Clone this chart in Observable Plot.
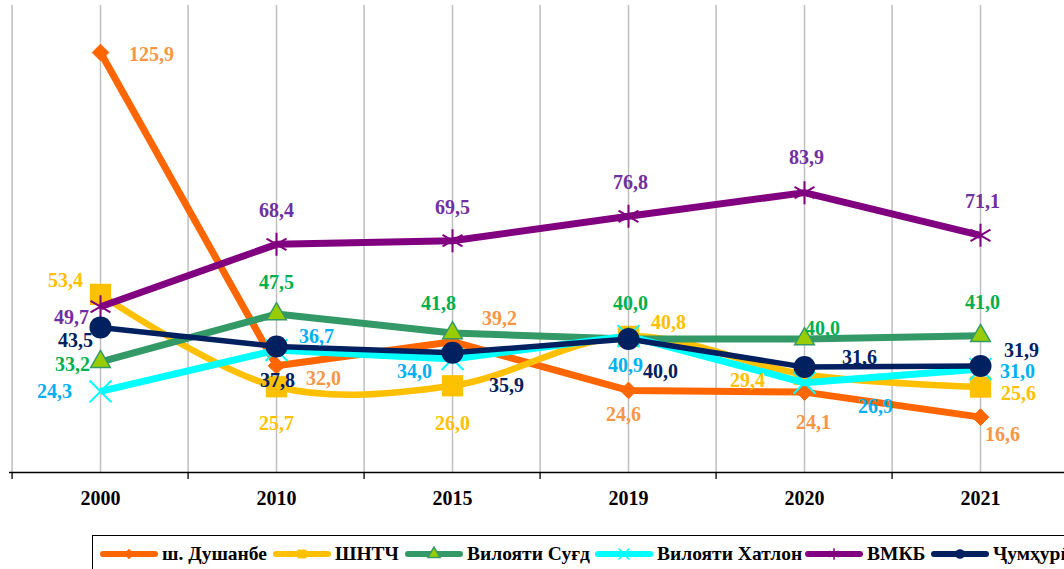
<!DOCTYPE html>
<html>
<head>
<meta charset="utf-8">
<script src="https://cdn.jsdelivr.net/npm/d3@7"></script>
<script src="https://cdn.jsdelivr.net/npm/@observablehq/plot@0.6"></script>
<style>
  html, body { margin: 0; padding: 0; background: #fff; overflow: hidden; width: 1064px; height: 569px; }
  #chart { position: absolute; left: 0; top: 0; }
  #chart svg { max-width: none !important; }
  #legend { position: absolute; left: 92px; top: 535px; width: 1000px; height: 44px; border: 1px solid #000; box-sizing: border-box; background: #fff; }
  .item { position: absolute; top: 0; height: 36px; display: flex; align-items: center; white-space: nowrap;
          font-family: "Liberation Serif", "DejaVu Serif", serif; font-weight: bold; font-size: 19.5px; color: #000; }
  .item svg { margin-right: 4px; display: block; }
</style>
</head>
<body>
<div id="chart"></div>
<div id="legend"></div>
<script>
// ---- data ----
const years = ["2000", "2010", "2015", "2019", "2020", "2021"];
const seriesNames = ["ш. Душанбе", "ШНТЧ", "Вилояти Суғд", "Вилояти Хатлон", "ВМКБ", "Ҷумҳурӣ"];
const dushanbe = [125.9, 32.0, 39.2, 24.6, 24.1, 16.6];
const shntch   = [53.4, 25.7, 26.0, 40.8, 29.4, 25.6];
const sughd    = [33.2, 47.5, 41.8, 40.0, 40.0, 41.0];
const khatlon  = [24.3, 36.7, 34.0, 40.9, 26.9, 31.0];
const vmkb     = [49.7, 68.4, 69.5, 76.8, 83.9, 71.1];
const jumhuri  = [43.5, 37.8, 35.9, 40.0, 31.6, 31.9];

// ---- styling / label placement (pixel offsets of each data label) ----
const labelOffsets = [
  [[51, 2], [47, 13], [47, -23], [-5, 24], [9, 30], [22, 17]],
  [[-35, -14], [0, 37], [0, 38], [40, -14], [-57, 6], [38, 6]],
  [[-28, 3], [0, -31], [-14, -29], [2, -35], [18, -10], [2, -33]],
  [[-46, 0], [40, -13], [-38, 13], [-3, 30], [71, 24], [37, 3]],
  [[-29, 11], [0, -34], [0, -33], [2, -34], [2, -35], [2, -34]],
  [[-25, 13], [1, 34], [54, 33], [32, 33], [55, -9], [41, -15]]
];
const styles = [
  {line: "#FF6600", lw: 7, curve: "linear", symbol: "diamond2", r: 7.5, fill: "#FF6600", stroke: "#FF6600", sw: 1, label: "#F79646", lr: 4.2},
  {line: "#FFC000", lw: 6.5, curve: "catmull-rom", symbol: "square", r: 12, fill: "#FFC000", stroke: "none", sw: 0, label: "#FFC000", lr: 5},
  {line: "#339966", lw: 7, curve: "linear", symbol: "triangle", r: 7.3, fill: "#99CC00", stroke: "#339966", sw: 1.5, label: "#00B050", lr: 4.5},
  {line: "#00FFFF", lw: 7, curve: "linear", symbol: "times", r: 10, fill: "none", stroke: "#00FFFF", sw: 2, label: "#00B0F0", lr: 5},
  {line: "#800080", lw: 7, curve: "linear", symbol: "asterisk", r: 10.9, fill: "none", stroke: "#800080", sw: 2, label: "#7030A0", lr: 5.5},
  {line: "#002060", lw: 5.5, curve: "linear", symbol: "circle", r: 11, fill: "#002060", stroke: "none", sw: 0, label: "#002060", lr: 4.8}
];
const allSeries = [dushanbe, shntch, sughd, khatlon, vmkb, jumhuri];

const fmt = v => d3.format(".1f")(v).replace(".", ",");
const FONT = "Liberation Serif, DejaVu Serif, serif";

const W = 1090, mL = 9, mR = 20;
const step = (W - mL - mR) / years.length;

const marks = [];
// vertical gridlines at category centres and boundaries
marks.push(Plot.ruleX(years, {x: d => d, stroke: "#BFBFBF", strokeWidth: 1.5}));
marks.push(Plot.ruleX(years, {x: d => d, dx: -step / 2, stroke: "#BFBFBF", strokeWidth: 1.5}));
// axis line and boundary ticks
marks.push(Plot.ruleY([0], {stroke: "#000", strokeWidth: 1.3}));
marks.push(Plot.ruleX(years, {x: d => d, y1: 0, y2: -2.1, dx: -step / 2, stroke: "#000", strokeWidth: 1.3}));
marks.push(Plot.axisX({tickSize: 0, tickPadding: 18, fontSize: 20, fontWeight: "bold", fontFamily: FONT, fill: "#000", label: null}));

allSeries.forEach((vals, si) => {
  const s = styles[si];
  const rows = years.map((y, i) => ({year: y, value: vals[i]}));
  marks.push(Plot.line(rows, {x: "year", y: "value", stroke: s.line, strokeWidth: s.lw, curve: s.curve, strokeLinejoin: "round", strokeLinecap: "butt"}));
  marks.push(Plot.dot(rows, {x: "year", y: "value", symbol: s.symbol, r: s.r, fill: s.fill, stroke: s.stroke, strokeWidth: s.sw}));
});

allSeries.forEach((vals, si) => {
  const s = styles[si];
  years.forEach((y, i) => {
    const [dx, dy] = labelOffsets[si][i];
    marks.push(Plot.text([{year: y, value: vals[i]}], {
      x: "year", y: "value", text: d => fmt(d.value), dx, dy,
      fill: s.label, fontSize: 20, fontWeight: "bold", fontFamily: FONT,
      textAnchor: "middle", lineAnchor: "middle"
    }));
  });
});

const chart = Plot.plot({
  width: W,
  height: 532,
  marginLeft: mL,
  marginRight: mR,
  marginTop: 5,
  marginBottom: 60,
  style: {fontFamily: FONT, background: "transparent", overflow: "visible", maxWidth: "none"},
  x: {type: "point", domain: years, padding: 0.5, label: null, axis: null},
  y: {domain: [0, 140], axis: null},
  marks
});
document.getElementById("chart").appendChild(chart);

// ---- legend ----
const legend = d3.select("#legend");
const lefts = [100, 273, 405, 595, 805, 931];
seriesNames.forEach((name, si) => {
  const s = styles[si];
  const item = legend.append("div").attr("class", "item").style("left", (lefts[si] - 93) + "px");
  const svg = item.append("svg").attr("width", 58).attr("height", 16);
  svg.append("line").attr("x1", 3).attr("x2", 55).attr("y1", 8).attr("y2", 8)
    .attr("stroke", s.line).attr("stroke-width", 6).attr("stroke-linecap", "round");
  const symMap = {diamond2: d3.symbolDiamond2, square: d3.symbolSquare, triangle: d3.symbolTriangle,
                  times: d3.symbolTimes, asterisk: d3.symbolAsterisk, circle: d3.symbolCircle};
  svg.append("path").attr("transform", "translate(29,8)")
    .attr("d", d3.symbol(symMap[s.symbol], Math.PI * s.lr * s.lr)())
    .attr("fill", s.fill).attr("stroke", s.stroke).attr("stroke-width", s.sw ? Math.min(s.sw, 1.5) : 0);
  item.append("span").text(name);
});
</script>
</body>
</html>
